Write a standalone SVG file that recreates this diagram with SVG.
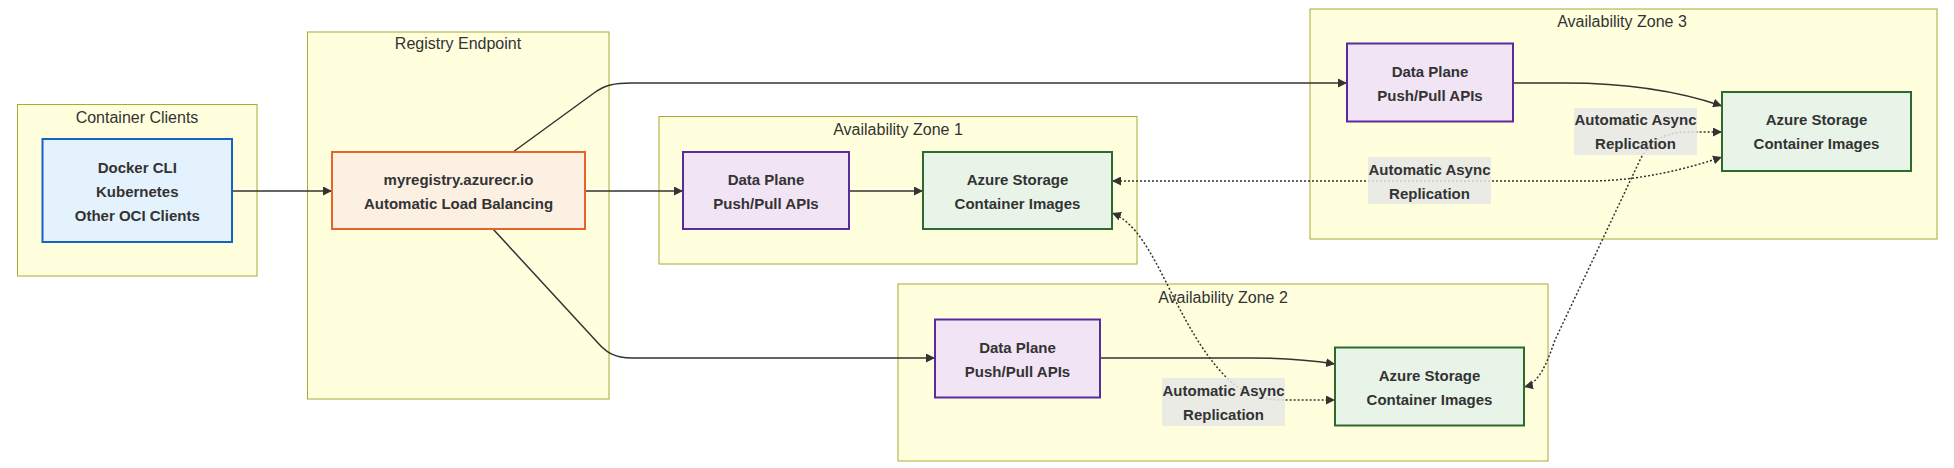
<svg xmlns="http://www.w3.org/2000/svg" width="1954" height="468" viewBox="0 0 1954 468">
<style>
.cluster rect{fill:#ffffde;stroke:#aaaa33;stroke-width:1}
.ctitle{font-family:"Liberation Sans",Arial,sans-serif;font-size:16px;fill:#333;text-anchor:middle}
.ntext{font-family:"Liberation Sans",Arial,sans-serif;font-size:15px;font-weight:bold;fill:#333;text-anchor:middle}
.client rect{fill:#e3f2fd;stroke:#1565c0;stroke-width:2}
.lb rect{fill:#fcf0e2;stroke:#e8622c;stroke-width:2}
.dp rect{fill:#f1e4f4;stroke:#5b2a9e;stroke-width:2}
.st rect{fill:#e8f4e8;stroke:#2e6a2e;stroke-width:2}
.solid{fill:none;stroke:#333;stroke-width:1.5}
.dotted{fill:none;stroke:#333;stroke-width:1.5;stroke-dasharray:2 2}
.elabel rect{fill:#e8e8e8;fill-opacity:0.85}
</style>
<defs>
<marker id="arrow" viewBox="0 0 10 10" refX="10" refY="5" markerWidth="9" markerHeight="9" markerUnits="userSpaceOnUse" orient="auto-start-reverse">
<path d="M0,0 L10,5 L0,10 z" fill="#333"/>
</marker>
</defs>

<g id="clusters">
<g id="cluster-clients" class="cluster">
<rect x="17.5" y="104.5" width="239.5" height="171.5"/>
<text class="ctitle" x="137" y="122.6">Container Clients</text>
</g>
<g id="cluster-registry" class="cluster">
<rect x="307.5" y="32" width="301.5" height="367"/>
<text class="ctitle" x="458" y="48.6">Registry Endpoint</text>
</g>
<g id="cluster-az1" class="cluster">
<rect x="659" y="116.5" width="478" height="147.5"/>
<text class="ctitle" x="898" y="134.6">Availability Zone 1</text>
</g>
<g id="cluster-az3" class="cluster">
<rect x="1310" y="9" width="627" height="230"/>
<text class="ctitle" x="1622" y="26.6">Availability Zone 3</text>
</g>
<g id="cluster-az2" class="cluster">
<rect x="898" y="284" width="650" height="177"/>
<text class="ctitle" x="1223" y="302.6">Availability Zone 2</text>
</g>
</g>

<g id="connectors">
<path class="solid" d="M232,191 L332,191" marker-end="url(#arrow)"/>
<path class="solid" d="M585,191 L683,191" marker-end="url(#arrow)"/>
<path class="solid" d="M513,152 L594,93 C605,85 614,83 632,83 L1347,83" marker-end="url(#arrow)"/>
<path class="solid" d="M493,229 L598,343 C606,352 614,358 632,358 L935,358" marker-end="url(#arrow)"/>
<path class="solid" d="M849,191 L923,191" marker-end="url(#arrow)"/>
<path class="solid" d="M1513,83 L1565,83 C1640,83 1690,95 1722,106" marker-end="url(#arrow)"/>
<path class="solid" d="M1100,358 L1250,358 C1290,358 1315,361 1335,364" marker-end="url(#arrow)"/>
<path class="dotted" d="M1112,181 L1590,181 C1640,181 1690,168 1722,157" marker-start="url(#arrow)" marker-end="url(#arrow)"/>
<path class="dotted" d="M1524,387 C1540,383 1548,360 1555,340 L1640,160 C1650,140 1665,132 1690,132 L1722,132" marker-start="url(#arrow)" marker-end="url(#arrow)"/>
<path class="dotted" d="M1112,213 C1135,222 1150,250 1170,290 C1190,330 1210,365 1235,385 C1250,396 1265,400 1285,400 L1335,400" marker-start="url(#arrow)" marker-end="url(#arrow)"/>
</g>

<g id="edge-labels">
<g id="label-az2-az3" class="elabel">
<rect x="1574" y="108" width="123" height="47"/>
<text class="ntext" x="1635.5" y="125">Automatic Async</text>
<text class="ntext" x="1635.5" y="149">Replication</text>
</g>
<g id="label-az1-az3" class="elabel">
<rect x="1368" y="157" width="123" height="47"/>
<text class="ntext" x="1429.5" y="174.5">Automatic Async</text>
<text class="ntext" x="1429.5" y="198.5">Replication</text>
</g>
<g id="label-az1-az2" class="elabel">
<rect x="1162" y="378" width="123" height="48"/>
<text class="ntext" x="1223.5" y="396">Automatic Async</text>
<text class="ntext" x="1223.5" y="420">Replication</text>
</g>
</g>

<g id="nodes">
<g id="clients" class="client">
<rect x="42.5" y="139" width="189.5" height="103"/>
<text class="ntext" x="137.3" y="172.5">Docker CLI</text>
<text class="ntext" x="137.3" y="196.5">Kubernetes</text>
<text class="ntext" x="137.3" y="220.5">Other OCI Clients</text>
</g>
<g id="registry" class="lb">
<rect x="332" y="152" width="253" height="77"/>
<text class="ntext" x="458.5" y="184.5">myregistry.azurecr.io</text>
<text class="ntext" x="458.5" y="208.5">Automatic Load Balancing</text>
</g>
<g id="dp1" class="dp">
<rect x="683" y="152" width="166" height="77"/>
<text class="ntext" x="766" y="184.5">Data Plane</text>
<text class="ntext" x="766" y="208.5">Push/Pull APIs</text>
</g>
<g id="st1" class="st">
<rect x="923" y="152" width="189" height="77"/>
<text class="ntext" x="1017.5" y="184.5">Azure Storage</text>
<text class="ntext" x="1017.5" y="208.5">Container Images</text>
</g>
<g id="dp3" class="dp">
<rect x="1347" y="43.5" width="166" height="78"/>
<text class="ntext" x="1430" y="76.5">Data Plane</text>
<text class="ntext" x="1430" y="100.5">Push/Pull APIs</text>
</g>
<g id="st3" class="st">
<rect x="1722" y="92" width="189" height="79"/>
<text class="ntext" x="1816.5" y="124.5">Azure Storage</text>
<text class="ntext" x="1816.5" y="148.5">Container Images</text>
</g>
<g id="dp2" class="dp">
<rect x="935" y="319.5" width="165" height="78"/>
<text class="ntext" x="1017.5" y="352.5">Data Plane</text>
<text class="ntext" x="1017.5" y="376.5">Push/Pull APIs</text>
</g>
<g id="st2" class="st">
<rect x="1335" y="347.5" width="189" height="78"/>
<text class="ntext" x="1429.5" y="380.5">Azure Storage</text>
<text class="ntext" x="1429.5" y="404.5">Container Images</text>
</g>
</g>
</svg>
